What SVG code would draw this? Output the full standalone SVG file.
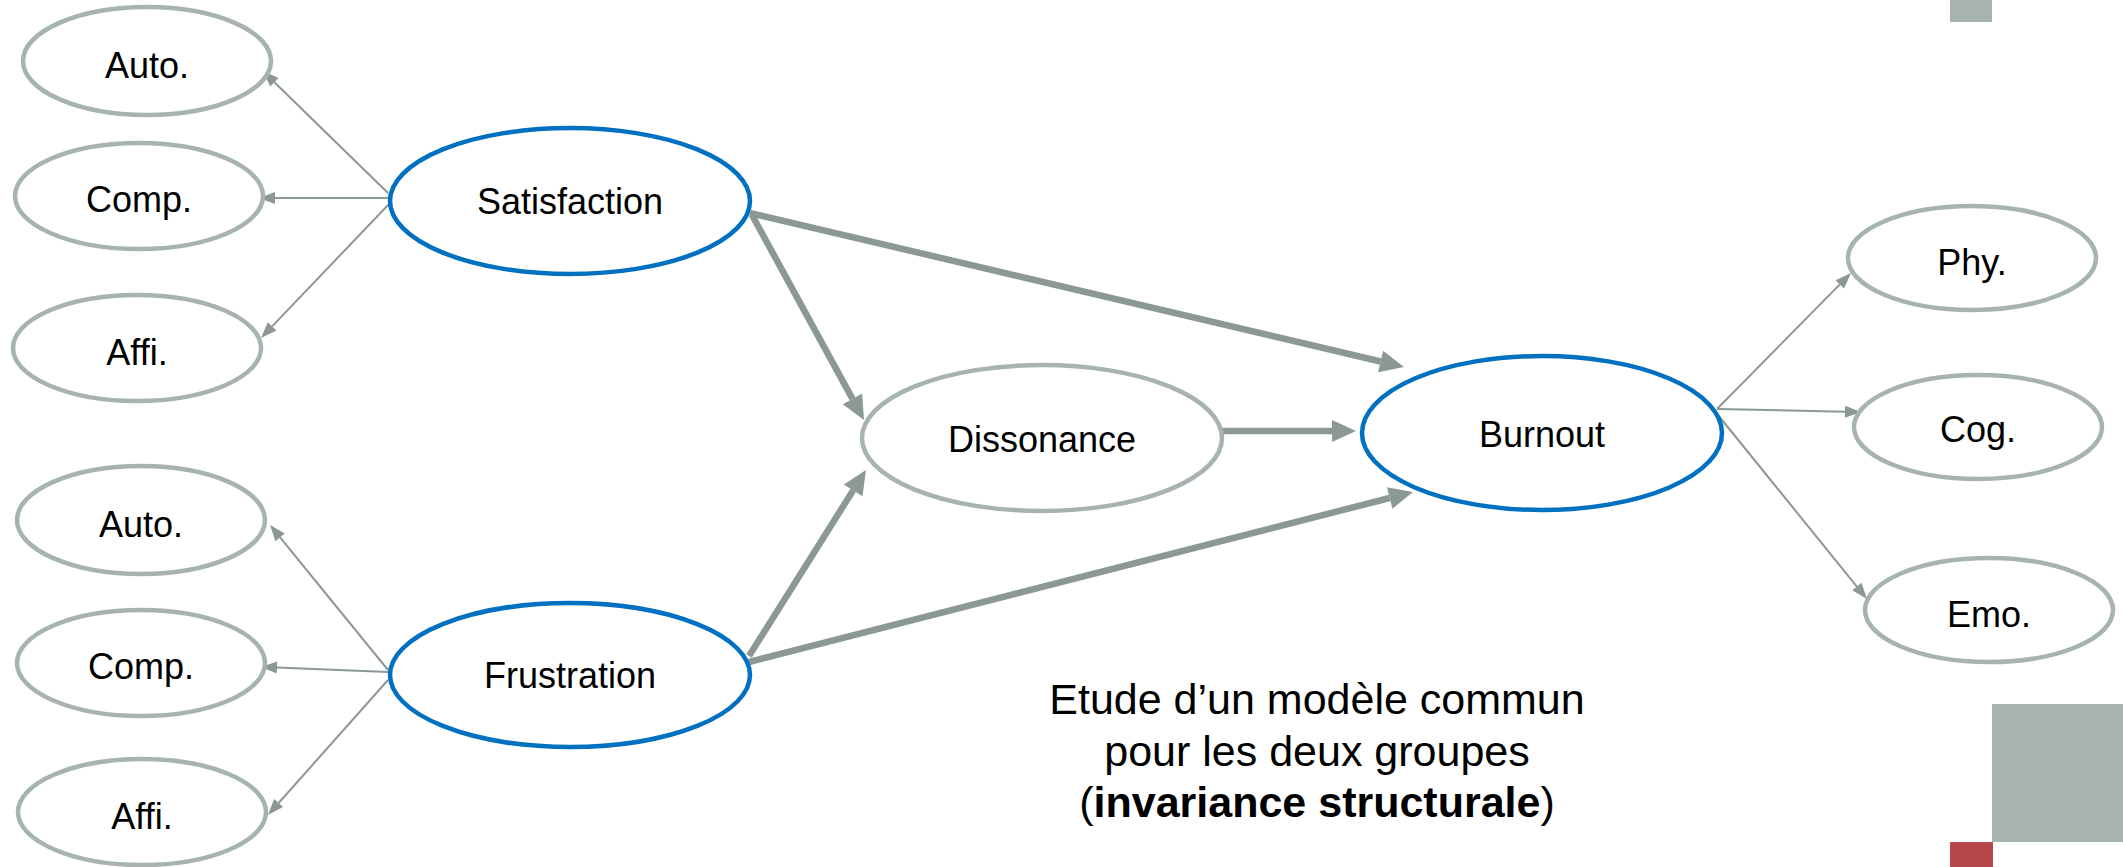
<svg xmlns="http://www.w3.org/2000/svg" width="2123" height="867" viewBox="0 0 2123 867">
<style>
.g{fill:#fff;stroke:#a6b3b1;stroke-width:4.5}
.b{fill:#fff;stroke:#0070c0;stroke-width:4.5}
.t{font-family:"Liberation Sans",Arial,sans-serif;font-size:36px;fill:#000;text-anchor:middle}
.thin{stroke:#8c9896;stroke-width:2;fill:none}
.thick{stroke:#8c9896;stroke-width:6.5;fill:none}
.cap{font-family:"Liberation Sans",Arial,sans-serif;font-size:43px;fill:#000;text-anchor:middle}
</style>
<defs>
<marker id="ah" markerUnits="userSpaceOnUse" markerWidth="16" markerHeight="12" refX="0" refY="6" orient="auto" overflow="visible"><path d="M0,0 L16,6 L0,12 z" fill="#8c9896"/></marker>
<marker id="AH" markerUnits="userSpaceOnUse" markerWidth="24" markerHeight="22" refX="0" refY="11" orient="auto" overflow="visible"><path d="M0,0 L24,11 L0,22 z" fill="#8c9896"/></marker>
</defs>
<rect width="2123" height="867" fill="#fff"/>
<g id="decor">
<rect x="1950" y="0" width="42" height="22" fill="#a6b3b1"/>
<rect x="1992" y="704" width="131" height="138" fill="#a6b3b1"/>
<rect x="1950" y="842" width="43" height="25" fill="#b8474a"/>
</g>
<g id="connectors">
<path class="thin" d="M388,193 L274.4,82.2" marker-end="url(#ah)"/>
<path class="thin" d="M390,198 L275,198" marker-end="url(#ah)"/>
<path class="thin" d="M390,203 L272.1,326.4" marker-end="url(#ah)"/>
<path class="thin" d="M388,670 L280.1,537.4" marker-end="url(#ah)"/>
<path class="thin" d="M388,672 L277,667.6" marker-end="url(#ah)"/>
<path class="thin" d="M388,680 L278.6,803" marker-end="url(#ah)"/>
<path class="thin" d="M1717,409 L1839.8,284.4" marker-end="url(#ah)"/>
<path class="thin" d="M1717,409 L1845,411.7" marker-end="url(#ah)"/>
<path class="thin" d="M1718,415 L1856.9,586.6" marker-end="url(#ah)"/>
<path class="thick" d="M750,213 L1380.6,361.5" marker-end="url(#AH)"/>
<path class="thick" d="M752,215 L852.5,398.9" marker-end="url(#AH)"/>
<path class="thick" d="M749,656 L853.2,490.3" marker-end="url(#AH)"/>
<path class="thick" d="M749,662 L1389.7,498" marker-end="url(#AH)"/>
<path class="thick" d="M1222,431 L1332,431" marker-end="url(#AH)"/>
</g>
<g id="n-auto1"><ellipse class="g" cx="147" cy="61" rx="124" ry="54"/><text class="t" x="147" y="78">Auto.</text></g>
<g id="n-comp1"><ellipse class="g" cx="139" cy="196" rx="124" ry="53"/><text class="t" x="139" y="212">Comp.</text></g>
<g id="n-affi1"><ellipse class="g" cx="137" cy="348" rx="124" ry="53"/><text class="t" x="137" y="365">Affi.</text></g>
<g id="n-auto2"><ellipse class="g" cx="141" cy="520" rx="124" ry="54"/><text class="t" x="141" y="537">Auto.</text></g>
<g id="n-comp2"><ellipse class="g" cx="141" cy="663" rx="124" ry="53"/><text class="t" x="141" y="679">Comp.</text></g>
<g id="n-affi2"><ellipse class="g" cx="142" cy="812" rx="124" ry="53"/><text class="t" x="142" y="829">Affi.</text></g>
<g id="n-satisfaction"><ellipse class="b" cx="570" cy="201" rx="180" ry="73"/><text class="t" x="570" y="214">Satisfaction</text></g>
<g id="n-frustration"><ellipse class="b" cx="570" cy="675" rx="180" ry="72"/><text class="t" x="570" y="688">Frustration</text></g>
<g id="n-dissonance"><ellipse class="g" cx="1042" cy="438" rx="180" ry="73"/><text class="t" x="1042" y="452">Dissonance</text></g>
<g id="n-burnout"><ellipse class="b" cx="1542" cy="433" rx="180" ry="77"/><text class="t" x="1542" y="447">Burnout</text></g>
<g id="n-phy"><ellipse class="g" cx="1972" cy="258" rx="124" ry="52"/><text class="t" x="1972" y="275">Phy.</text></g>
<g id="n-cog"><ellipse class="g" cx="1978" cy="427" rx="124" ry="52"/><text class="t" x="1978" y="442">Cog.</text></g>
<g id="n-emo"><ellipse class="g" cx="1989" cy="610" rx="124" ry="52"/><text class="t" x="1989" y="627">Emo.</text></g>
<g id="caption">
<text class="cap" x="1317" y="714">Etude d’un modèle commun</text>
<text class="cap" x="1317" y="766">pour les deux groupes</text>
<text class="cap" x="1317" y="817">(<tspan font-weight="bold">invariance structurale</tspan>)</text>
</g>
</svg>
